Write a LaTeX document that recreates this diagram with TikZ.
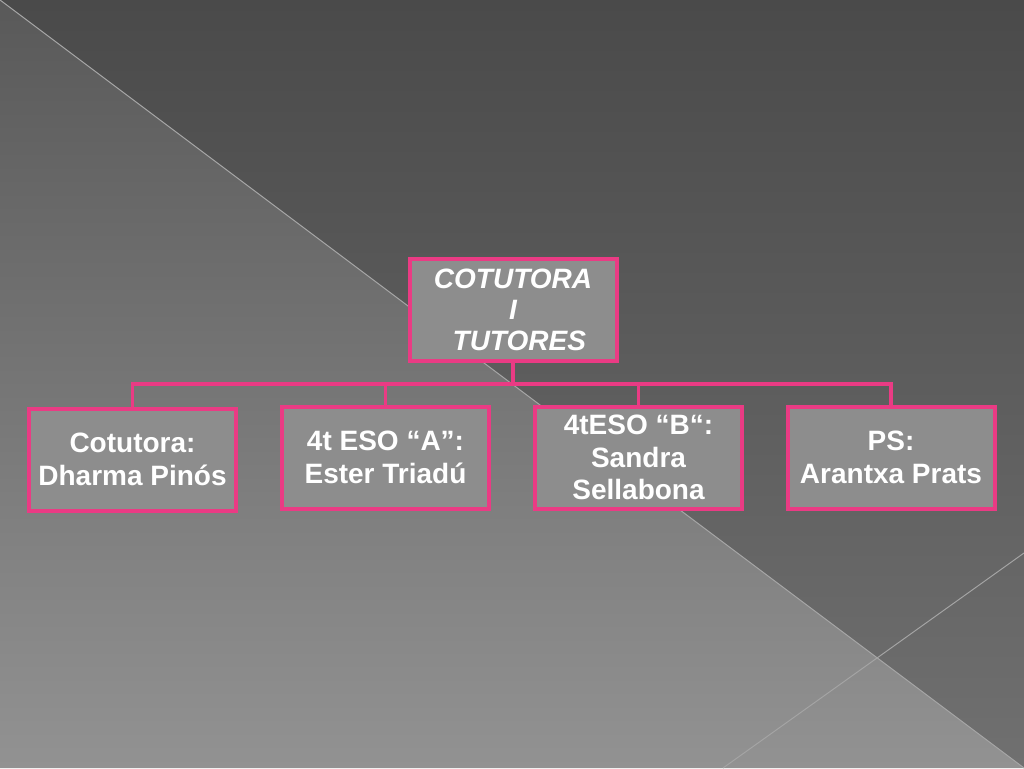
\documentclass[tikz,border=0pt]{standalone}
\usepackage{fontspec}
\setmainfont{Liberation Sans}
\usepackage{tikz}
\usetikzlibrary{positioning}
\definecolor{slidedark}{HTML}{4A4A4A}
\definecolor{slidedarklow}{HTML}{707070}
\definecolor{slidelight}{HTML}{595959}
\definecolor{slidelightlow}{HTML}{929292}
\definecolor{slideline}{HTML}{A4A4A4}
\definecolor{boxfill}{HTML}{8D8D8D}
\definecolor{boxpink}{HTML}{EA3B84}
\tikzstyle{member} = [
    draw=boxpink,
    line width=4pt,
    rectangle,
    fill=boxfill,
    minimum width=207pt,
    minimum height=102pt,
    inner sep=0pt,
    align=center,
    text=white,
    font=\fontsize{28}{32.5}\selectfont\bfseries
]
\tikzstyle{head} = [member, font=\fontsize{28}{31}\selectfont\bfseries\itshape]
\tikzstyle{link} = [draw=boxpink, line width=3.5pt]
\tikzstyle{crease} = [draw=slideline, line width=1pt]

\begin{document}
\begin{tikzpicture}[x=1pt, y=-1pt]
    \useasboundingbox (0, 0) rectangle (1024, 768);

    % Background.
    \shade [top color=slidedark, bottom color=slidedarklow] (0, 0) -- (1024, 0) -- (1024, 768) -- cycle;
    \shade [top color=slidelight, bottom color=slidelightlow] (0, 0) -- (0, 768) -- (1024, 768) -- cycle;
    \draw [crease] (0, 0) -- (1024, 768);
    \draw [crease] (723, 768) -- (1024, 553);

    % Nodes.
    \node (root) [head] at (513, 309.5) {COTUTORA\\I\\\hspace*{0.45em}TUTORES};

    \node (cotutora) [member] at (132.5, 459.5) {Cotutora:\\Dharma Pinós};
    \node (group a) [member] at (385.5, 457.5) {4t ESO “A”:\\Ester Triadú};
    \node (group b) [member] at (638.5, 457.5) {4tESO “B“:\\Sandra\\Sellabona};
    \node (ps) [member] at (891, 457.5) {PS:\\Arantxa Prats};

    \coordinate (branch) at (513, 384);

    % Paths.
    \draw [link] (root) -- (branch);
    \draw [link] (branch) -| (cotutora);
    \draw [link] (branch) -| (group a);
    \draw [link] (branch) -| (group b);
    \draw [link] (branch) -| (ps);
\end{tikzpicture}
\end{document}
